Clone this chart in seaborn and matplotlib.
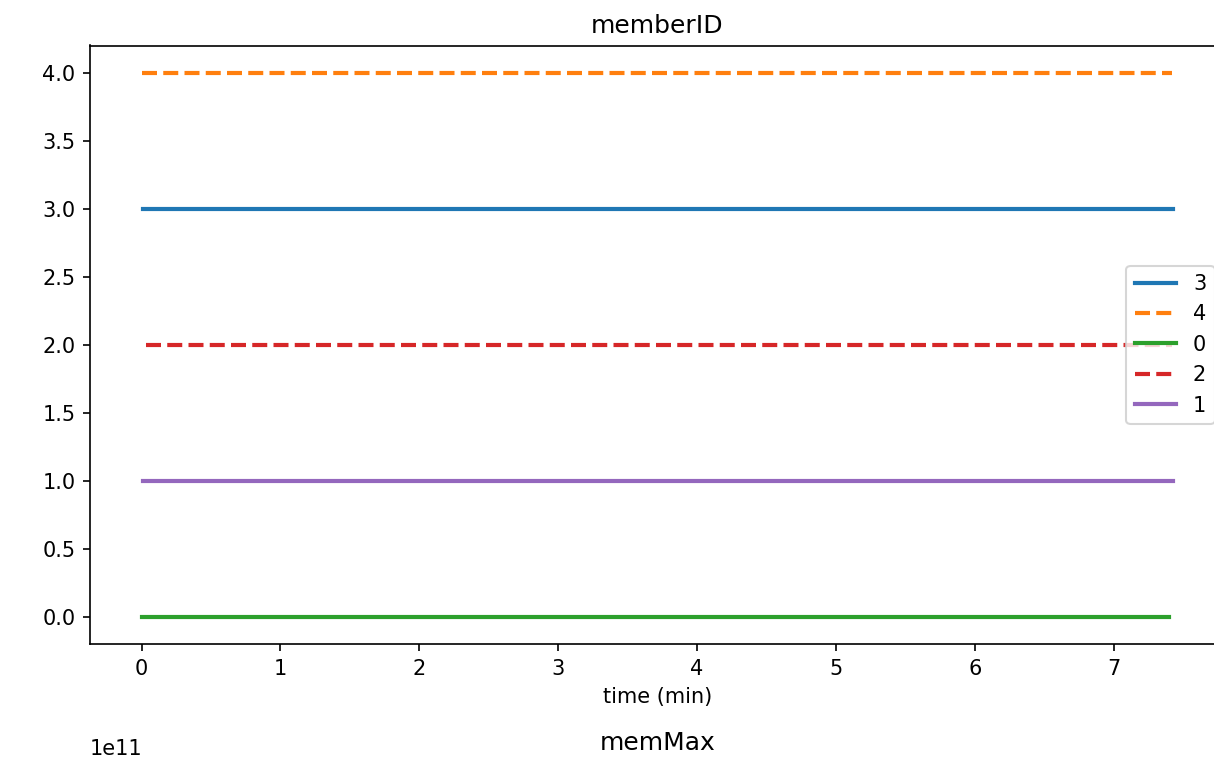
import pandas as pd
import seaborn as sns
import matplotlib
matplotlib.use("Agg")
import matplotlib.pyplot as plt

# each member keeps its id constant over the run (start / end time in minutes)
members = ["3", "4", "0", "2", "1"]
member_ids = [3, 4, 0, 2, 1]
t_start = [0.012, 0.0, 0.0, 0.029, 0.012]
t_end = [7.43, 7.42, 7.40, 7.42, 7.43]
dashed = [False, True, False, True, False]

rows = []
for m, mid, a, b in zip(members, member_ids, t_start, t_end):
    rows.append(dict(member=m, time=a, memberID=mid))
    rows.append(dict(member=m, time=b, memberID=mid))
data = pd.DataFrame(rows)

palette = dict(zip(members, sns.color_palette("tab10", len(members))))
dashes = {m: ((3.6, 1.5) if d else "") for m, d in zip(members, dashed)}

fig = plt.figure(figsize=(1214 / 150, 757 / 150), dpi=150)
ax = fig.add_axes([90 / 1214, 113 / 757, 1135 / 1214, 598.5 / 757])

sns.lineplot(data=data, x="time", y="memberID", hue="member", style="member",
             hue_order=members, style_order=members, palette=palette,
             dashes=dashes, linewidth=2, ax=ax)

ax.set_title("memberID", fontsize=12)
ax.set_xlabel("time (min)", fontsize=10)
ax.set_ylabel("")
sns.move_legend(ax, "center right", title=None, fontsize=10)

# top of the next panel, cut off by the figure edge
fig.text(658 / 1214, 7 / 757, "memMax", ha="center", va="baseline", fontsize=12)
fig.text(90 / 1214, 2 / 757, "1e11", ha="left", va="baseline", fontsize=10)

fig.savefig("out.png", dpi=150)
